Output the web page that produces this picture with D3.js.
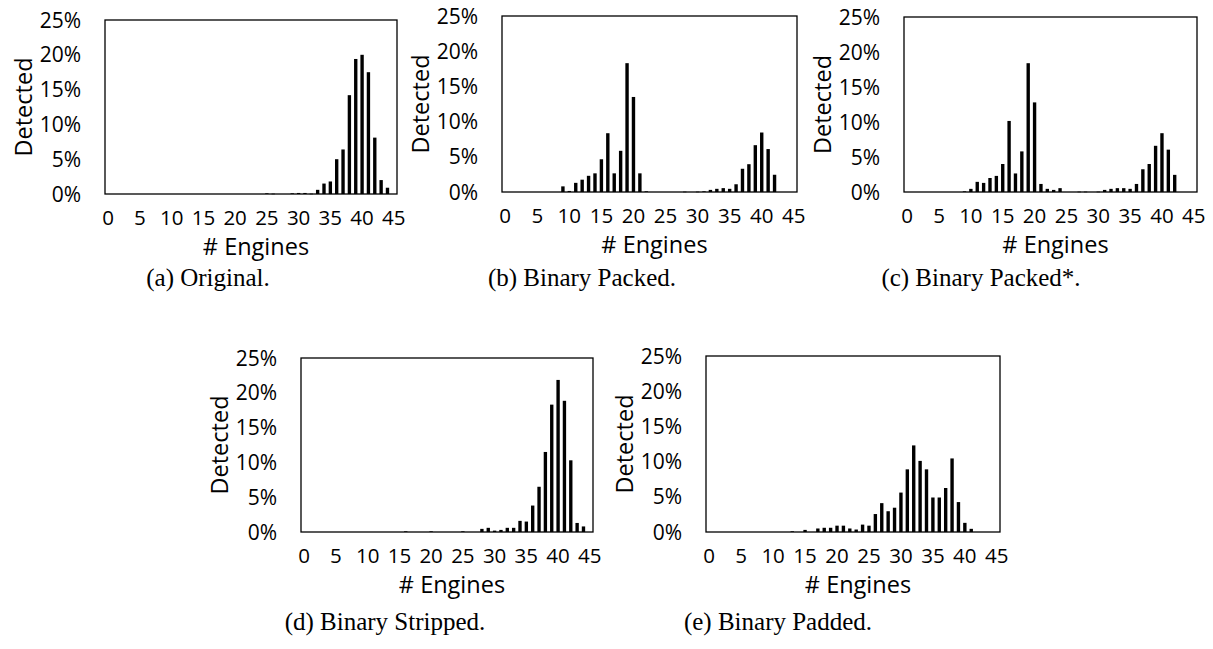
<!DOCTYPE html>
<html>
<head>
<meta charset="utf-8">
<script src="https://cdn.jsdelivr.net/npm/d3@7"></script>
<style>
  body { margin: 0; background: #fff; }
  svg { display: block; }
</style>
</head>
<body>
<script>
// categories: number of engines
const engines = [0, 1, 2, 3, 4, 5, 6, 7, 8, 9, 10, 11, 12, 13, 14, 15, 16, 17, 18, 19, 20, 21, 22,
    23, 24, 25, 26, 27, 28, 29, 30, 31, 32, 33, 34, 35, 36, 37, 38, 39, 40, 41, 42, 43, 44, 45];
const xTickLabels = [0, 5, 10, 15, 20, 25, 30, 35, 40, 45];
const yTicks = [0, 5, 10, 15, 20, 25];

// % detected, one value per engine count
const original = [0, 0, 0, 0, 0, 0, 0, 0, 0, 0, 0, 0, 0, 0, 0, 0, 0, 0, 0, 0, 0, 0, 0, 0, 0,
    0.1, 0.05, 0, 0, 0.1, 0.15, 0.15, 0.05, 0.6, 1.5, 1.8, 5.0, 6.4, 14.2, 19.4, 20.0, 17.5, 8.1, 2.0, 0.9, 0];
const packed = [0, 0, 0, 0, 0, 0, 0, 0, 0, 0.8, 0.15, 1.3, 1.75, 2.3, 2.65, 4.65, 8.35, 2.65, 5.85, 18.3, 13.5, 2.65, 0.1,
    0, 0, 0, 0, 0, 0.05, 0, 0.05, 0.1, 0.3, 0.45, 0.55, 0.45, 1.1, 3.3, 3.95, 6.65, 8.45, 6.1, 2.45, 0, 0, 0];
const packedStar = [0, 0, 0, 0, 0, 0, 0, 0, 0, 0.1, 0.45, 1.45, 1.3, 2.0, 2.3, 4.0, 10.15, 2.65, 5.8, 18.4, 12.8, 1.15, 0.45,
    0.3, 0.55, 0, 0, 0.05, 0.05, 0, 0.05, 0.3, 0.45, 0.55, 0.55, 0.45, 1.15, 3.25, 4.0, 6.6, 8.4, 6.05, 2.45, 0, 0, 0];
const stripped = [0, 0, 0, 0, 0, 0, 0, 0, 0, 0, 0, 0, 0, 0, 0, 0, 0.1, 0, 0, 0, 0.1, 0, 0, 0, 0, 0.1, 0, 0,
    0.45, 0.6, 0.2, 0.3, 0.6, 0.6, 1.6, 1.5, 3.8, 6.5, 11.5, 18.3, 21.85, 18.85, 10.3, 1.3, 0.8, 0];
const padded = [0, 0, 0, 0, 0, 0, 0, 0, 0, 0, 0, 0, 0, 0.1, 0, 0.3, 0, 0.5, 0.6, 0.6, 0.9, 0.9, 0.5, 0.35,
    1.05, 0.9, 2.55, 4.1, 2.95, 3.45, 5.6, 8.9, 12.3, 10.1, 8.9, 4.9, 4.9, 6.25, 10.45, 4.25, 1.3, 0.45, 0, 0, 0, 0];

const captions = ['(a) Original.', '(b) Binary Packed.', '(c) Binary Packed*.', '(d) Binary Stripped.', '(e) Binary Padded.'];

const width = 1213;
const height = 649;

const panels = [
    { values: original,   caption: captions[0], box: { left: 105, right: 397, top: 20, bottom: 194 }, capX: 208, capY: 286 },
    { values: packed,     caption: captions[1], box: { left: 502, right: 797, top: 16, bottom: 192 }, capX: 582, capY: 286 },
    { values: packedStar, caption: captions[2], box: { left: 904, right: 1197, top: 17, bottom: 192 }, capX: 981, capY: 286 },
    { values: stripped,   caption: captions[3], box: { left: 301, right: 593, top: 358, bottom: 532 }, capX: 385, capY: 630 },
    { values: padded,     caption: captions[4], box: { left: 706, right: 1000, top: 356, bottom: 532 }, capX: 778, capY: 630 },
];

const tickFont = '"Open Sans", sans-serif';

const svg = d3.create('svg')
    .attr('width', width)
    .attr('height', height);

panels.forEach(p => {
    const b = p.box;
    const g = svg.append('g');

    const x = d3.scaleBand()
        .domain(engines)
        .range([b.left, b.right])
        .paddingInner(0.47)
        .paddingOuter(0.235);

    const y = d3.scaleLinear()
        .domain([0, 25])
        .range([b.bottom, b.top]);

    g.selectAll('rect.bar')
        .data(engines.map((e, i) => ({ e, v: p.values[i] })).filter(d => d.v > 0))
        .join('rect')
        .attr('class', 'bar')
        .attr('fill', '#000')
        .attr('x', d => x(d.e))
        .attr('y', d => y(d.v))
        .attr('width', x.bandwidth())
        .attr('height', d => Math.max(0.6, y(0) - y(d.v)));

    // frame
    g.append('rect')
        .attr('x', b.left)
        .attr('y', b.top)
        .attr('width', b.right - b.left)
        .attr('height', b.bottom - b.top)
        .attr('fill', 'none')
        .attr('stroke', '#000')
        .attr('stroke-width', 1.3);

    // y tick labels
    g.selectAll('text.ytick')
        .data(yTicks)
        .join('text')
        .attr('class', 'ytick')
        .attr('x', b.left - 24)
        .attr('y', d => y(d))
        .attr('dy', '0.36em')
        .attr('text-anchor', 'end')
        .style('font-family', tickFont)
        .style('font-size', '21px')
        .text(d => d + '%');

    // x tick labels
    g.selectAll('text.xtick')
        .data(xTickLabels)
        .join('text')
        .attr('class', 'xtick')
        .attr('x', d => x(d) + x.bandwidth() / 2)
        .attr('y', b.bottom + 31)
        .attr('text-anchor', 'middle')
        .style('font-family', tickFont)
        .style('font-size', '20.5px')
        .text(d => d);

    // axis titles
    g.append('text')
        .attr('transform', `translate(${b.left - 73},${(b.top + b.bottom) / 2}) rotate(-90)`)
        .attr('text-anchor', 'middle')
        .style('font-family', tickFont)
        .style('font-size', '23.5px')
        .text('Detected');

    g.append('text')
        .attr('x', (b.left + b.right) / 2 + 5)
        .attr('y', b.bottom + 61)
        .attr('text-anchor', 'middle')
        .style('font-family', tickFont)
        .style('font-size', '23.5px')
        .text('# Engines');

    // caption
    g.append('text')
        .attr('x', p.capX)
        .attr('y', p.capY)
        .attr('text-anchor', 'middle')
        .style('font-family', '"Liberation Serif", "Times New Roman", serif')
        .style('font-size', '25px')
        .text(p.caption);
});

document.querySelector('body').appendChild(svg.node());
</script>
</body>
</html>
